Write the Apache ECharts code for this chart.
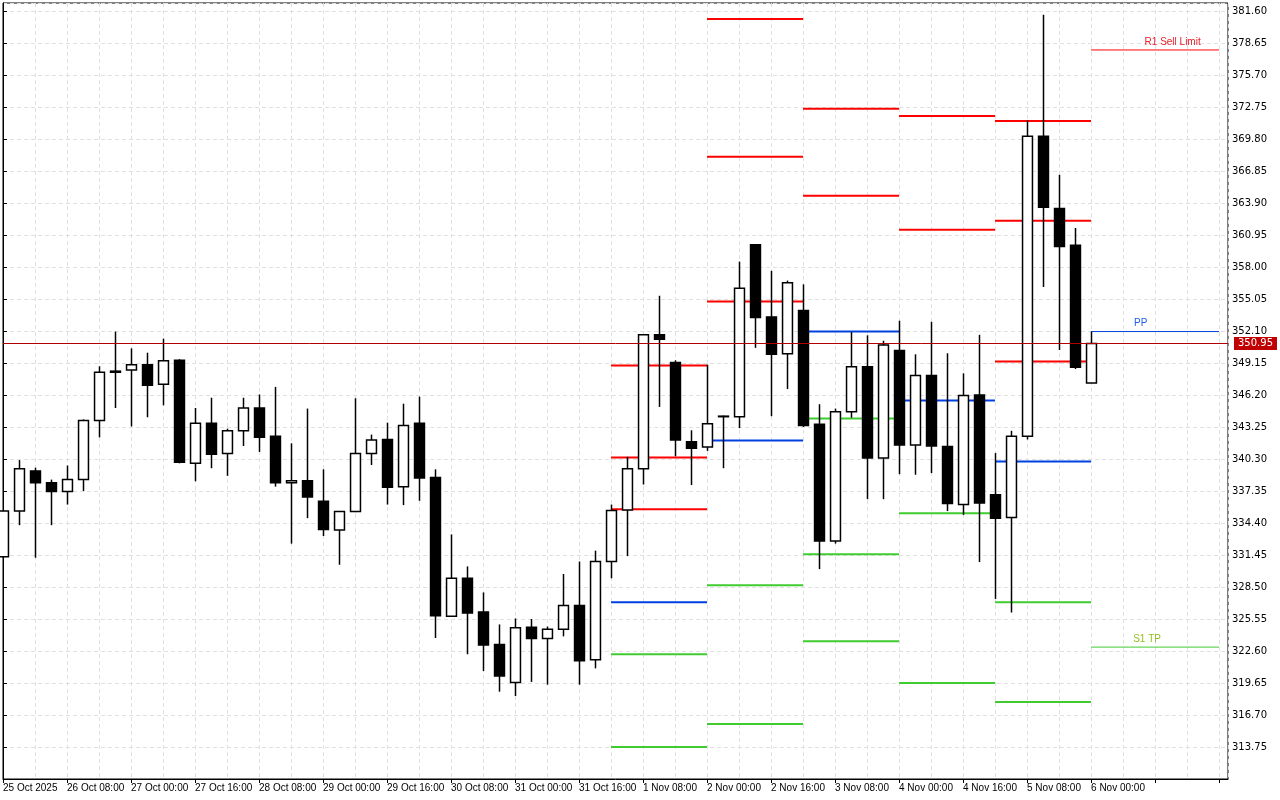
<!DOCTYPE html>
<html><head><meta charset="utf-8">
<script src="https://cdn.jsdelivr.net/npm/echarts@6/dist/echarts.min.js"></script>
<style>html,body{margin:0;padding:0;background:#fff}#c{width:1280px;height:800px}</style>
</head><body><div id="c"></div>
<script>
// x tick labels (every 4 bars of 4H, starting at bar 0)
const tickLabels = ['25 Oct 2025','26 Oct 08:00','27 Oct 00:00','27 Oct 16:00','28 Oct 08:00','29 Oct 00:00','29 Oct 16:00','30 Oct 08:00','31 Oct 00:00','31 Oct 16:00','1 Nov 08:00','2 Nov 00:00','2 Nov 16:00','3 Nov 08:00','4 Nov 00:00','4 Nov 16:00','5 Nov 08:00','6 Nov 00:00'];
// candles: [open, close, low, high]
const candles = [
[331.3,335.5,331.2,335.6],[335.5,339.4,334.2,340.2],[339.2,338.1,331.2,339.5],[338.1,337.3,334.2,338.4],
[337.3,338.4,336.1,339.7],[338.4,343.85,337.35,343.95],[343.85,348.3,342.3,348.85],[348.3,348.4,345.0,352.05],
[348.5,349.0,343.3,350.5],[349.0,347.1,344.15,350.1],[347.2,349.35,345.25,351.4],[349.4,340.0,339.9,349.5],
[339.9,343.6,338.25,345.0],[343.6,340.75,339.45,345.95],[340.8,342.9,338.75,343.1],[342.9,345.0,341.5,345.95],
[345.0,342.3,340.95,346.25],[342.4,338.1,337.75,346.95],[338.1,338.3,332.5,341.75],[338.3,336.8,334.85,344.95],
[336.4,333.8,333.2,339.35],[333.75,335.45,330.55,335.5],[335.45,340.8,335.4,345.9],[340.8,342.05,339.75,342.55],
[342.1,337.7,336.1,343.65],[337.75,343.4,336.05,345.4],[343.6,338.55,336.45,346.05],[338.6,325.85,323.8,339.35],
[325.8,329.3,325.75,333.35],[329.3,326.1,322.3,330.4],[326.2,323.15,320.75,328.0],[323.2,320.3,318.85,325.05],
[319.7,324.75,318.45,325.6],[324.8,323.75,319.75,325.55],[323.75,324.6,319.5,324.85],[324.6,326.8,323.95,329.7],
[326.8,321.7,319.5,330.85],[321.8,330.85,321.0,331.85],[330.85,335.55,329.3,336.1],[335.6,339.4,331.35,340.5],
[339.4,351.75,337.95,351.8],[351.75,351.35,345.1,355.35],[349.2,342.05,340.55,349.4],[341.9,341.3,337.9,342.95],
[341.4,343.55,341.05,349.0],[344.2,344.25,339.45,344.3],[344.2,356.05,343.15,358.5],[360.05,353.35,350.55,360.1],
[353.4,349.95,344.25,357.65],[350.0,356.55,346.75,356.75],[354.0,343.4,343.25,356.4],[343.5,332.75,330.15,345.35],
[332.75,344.65,332.5,344.95],[344.65,348.8,344.1,352.0],[348.8,340.4,336.6,351.7],[340.4,350.8,336.6,351.2],
[350.3,341.6,338.9,353.05],[341.6,348.0,338.85,349.95],[348.0,341.5,339.0,352.95],[341.45,336.2,335.5,350.05],
[336.1,346.15,335.15,348.2],[346.2,336.25,330.8,351.75],[337.0,334.85,327.4,340.85],[334.9,342.4,326.15,342.9],
[342.4,370.05,342.1,371.5],[370.05,363.5,356.15,381.25],[363.4,359.9,350.35,366.5],[360.0,348.75,348.6,361.6],
[347.3,350.95,347.3,352.05]
];
// daily pivot segments: start bar, end bar, level prices and kinds (R, P, S)
const pivotStart = [38,44,50,56,62,68];
const pivotEnd   = [44,50,56,62,68,76];
const pivotPrices = [
  [348.92,340.45,335.66,327.10,322.31,313.75],
  [380.86,368.16,354.81,342.01,328.66,315.86],
  [372.58,364.57,352.05,344.04,331.52,323.51],
  [371.93,361.44,345.70,335.29,319.64],
  [371.47,362.27,349.29,340.08,327.10,317.89],
  [378.01,352.05,322.96]
];
const pivotKinds = [
  ['R','R','R','P','S','S'],
  ['R','R','R','P','S','S'],
  ['R','R','P','S','S','S'],
  ['R','R','P','S','S'],
  ['R','R','R','P','S','S'],
  ['R','P','S']
];
const lastLabels = ['R1 Sell Limit','PP','S1 TP'];
const lastPrice = 350.95;

const kindColor = {R:'#ff0000', P:'#0040e0', S:'#40cc30'};
const labelColor = {R:'#e8202a', P:'#2060e0', S:'#90c020'};
const labelShift = {R:1.1, P:-0.9, S:-0.5};

const candleData = candles.map((c,i)=>[i,c[0],c[1],c[2],c[3]]);
const pivotData = [];
pivotPrices.forEach((lv,d)=>lv.forEach((p,k)=>pivotData.push([pivotStart[d],pivotEnd[d],p,pivotKinds[d][k],d===pivotStart.length-1?lastLabels[k]:''])));

const chart = echarts.init(document.getElementById('c'));
const fmt = v => v.toFixed(2);
chart.setOption({
  animation:false,
  backgroundColor:'#fff',
  grid:{left:3,right:52,top:3,bottom:21,show:true,borderColor:'#000',borderWidth:1},
  xAxis:[
    {type:'value',min:0,max:76.56,interval:4,position:'bottom',
     axisLine:{show:true,lineStyle:{color:'#000'}},
     axisTick:{show:true,length:4,lineStyle:{color:'#000'}},
     axisLabel:{color:'#000',fontSize:10,fontFamily:'Liberation Sans',align:'left',margin:4,showMaxLabel:false,
       formatter:v=>tickLabels[Math.round(v/4)]||''},
     splitLine:{show:false}},
    {type:'value',min:0,max:76.56,interval:2,show:true,position:'bottom',
     axisLine:{show:false},axisTick:{show:false},axisLabel:{show:false},
     splitLine:{show:true,lineStyle:{color:'#e0e0e0',type:[4,3]}}}
  ],
  yAxis:{type:'value',position:'right',min:310.80,max:382.34,interval:2.95,
    axisLine:{show:true,lineStyle:{color:'#000'}},
    axisTick:{show:true,length:4,lineStyle:{color:'#000'}},
    axisLabel:{color:'#000',fontSize:10,fontFamily:'DejaVu Sans',margin:4,formatter:fmt,showMinLabel:false,showMaxLabel:false},
    splitLine:{show:true,lineStyle:{color:'#e0e0e0',type:[4,3]}}},
  series:[
    {type:'custom',xAxisIndex:0,data:pivotData,encode:{x:[0,1],y:2},z:2,
     renderItem:(params,api)=>{
       const s=api.value(0),e=api.value(1),p=api.value(2);
       const d=pivotData[params.dataIndex];
       const a=api.coord([s,p]),b=api.coord([e,p]);
       const last = s===pivotStart[pivotStart.length-1];
       const children=[{type:'line',shape:{x1:a[0],y1:a[1],x2:b[0],y2:b[1]},
         style:{stroke:kindColor[d[3]],lineWidth:last?1:2}}];
       if(d[4]){
         const m=api.coord([(s+e)/2+labelShift[d[3]],p]);
         children.push({type:'text',style:{text:d[4],x:m[0],y:m[1]-3,align:'center',verticalAlign:'bottom',
           fill:labelColor[d[3]],font:'10px "Liberation Sans"'}});
       }
       return {type:'group',children};
     }},
    {type:'custom',xAxisIndex:0,data:candleData,encode:{x:0,y:[1,2,3,4]},z:3,
     renderItem:(params,api)=>{
       const x=api.value(0),o=api.value(1),c=api.value(2),l=api.value(3),h=api.value(4);
       const w=api.size([1,0])[0]*0.62;
       const ph=api.coord([x,h]),pl=api.coord([x,l]),po=api.coord([x,o]),pc=api.coord([x,c]);
       const cx=Math.round(ph[0])+0.5;
       const top=Math.min(po[1],pc[1]),bot=Math.max(po[1],pc[1]);
       const up=c>=o;
       return {type:'group',children:[
         {type:'line',shape:{x1:cx,y1:ph[1],x2:cx,y2:pl[1]},style:{stroke:'#000',lineWidth:1.5}},
         {type:'rect',shape:{x:cx-w/2,y:top,width:w,height:Math.max(bot-top,0.5)},
          style:{fill:up?'#fff':'#000',stroke:'#000',lineWidth:1.5}}
       ]};
     },
     markLine:{symbol:'none',silent:true,animation:false,
       data:[{yAxis:lastPrice}],
       lineStyle:{color:'#b00000',width:1,type:'solid'},
       label:{show:true,position:'end',formatter:()=>fmt(lastPrice),color:'#fff',backgroundColor:'#c00000',
         fontSize:10,fontFamily:'DejaVu Sans',padding:[2,4,1,4],distance:6}}}
  ]
});
</script></body></html>
